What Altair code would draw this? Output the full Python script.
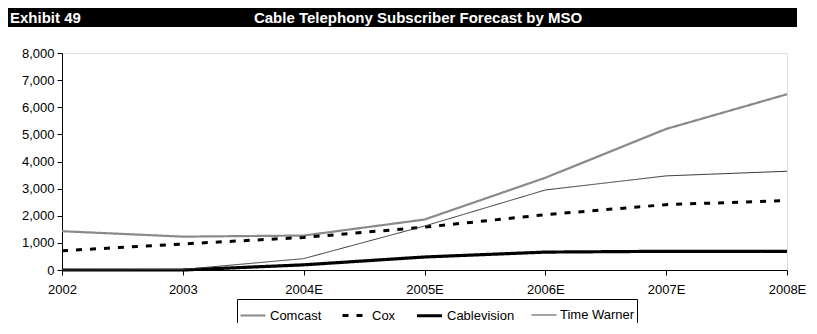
import altair as alt
import pandas as pd

years = ["2002", "2003", "2004E", "2005E", "2006E", "2007E", "2008E"]
comcast = [1430, 1230, 1270, 1860, 3400, 5200, 6480]
cox = [710, 960, 1200, 1580, 2040, 2410, 2560]
cablevision = [0, 0, 190, 480, 660, 690, 690]
time_warner = [0, 20, 420, 1620, 2950, 3470, 3640]

series_names = ["Comcast", "Cox", "Cablevision", "Time Warner"]
series_values = [comcast, cox, cablevision, time_warner]

rows = []
for name, vals in zip(series_names, series_values):
    for y, v in zip(years, vals):
        rows.append({"Year": y, "MSO": name, "Subscribers": v})
df = pd.DataFrame(rows)

REG = "Liberation Sans, Arial, sans-serif"


def legend():
    return alt.Legend(title=None, orient="none", legendX=175, legendY=246,
                      direction="horizontal", symbolType="stroke",
                      symbolSize=625, labelFont=REG, labelFontSize=13,
                      labelColor="#000", columnPadding=14, labelOffset=3,
                      strokeColor="#000", padding=2, fillColor="#fff")


lines = alt.Chart(df).mark_line(clip=False).encode(
    x=alt.X("Year:N", sort=years,
            scale=alt.Scale(type="point", padding=0),
            axis=alt.Axis(title=None, labelAngle=0, tickSize=5, labelPadding=8,
                          labelFont=REG, labelFontSize=13, labelColor="#000",
                          domainColor="#000", tickColor="#000", grid=False)),
    y=alt.Y("Subscribers:Q",
            scale=alt.Scale(domain=[0, 8000], nice=False),
            axis=alt.Axis(title=None, values=list(range(0, 8001, 1000)), format=",d",
                          tickSize=5, labelPadding=3, labelFont=REG, labelFontSize=13,
                          labelColor="#000", domainColor="#000", tickColor="#000",
                          grid=False)),
    color=alt.Color("MSO:N", sort=series_names,
                    scale=alt.Scale(domain=series_names,
                                    range=["#8a8a8a", "#000000", "#000000", "#333333"]),
                    legend=legend()),
    strokeDash=alt.StrokeDash("MSO:N", sort=series_names,
                              scale=alt.Scale(domain=series_names,
                                              range=[[1, 0], [6, 8], [1, 0], [1, 0]]),
                              legend=legend()),
    strokeWidth=alt.StrokeWidth("MSO:N", sort=series_names,
                                scale=alt.Scale(type="ordinal", domain=series_names,
                                                range=[2.2, 3, 3.2, 1]),
                                legend=legend()),
)

header_df = pd.DataFrame({"a": [0]})
bar = alt.Chart(header_df).mark_rect(color="#000", clip=False).encode(
    x=alt.value(-54), x2=alt.value(735), y=alt.value(-45), y2=alt.value(-26)
)
exhibit = alt.Chart(header_df).mark_text(
    align="left", baseline="alphabetic", font=REG, fontSize=15,
    fontWeight="bold", color="#fff"
).encode(x=alt.value(-52), y=alt.value(-30), text=alt.value("Exhibit 49"))
title = alt.Chart(header_df).mark_text(
    align="center", baseline="alphabetic", font=REG, fontSize=15,
    fontWeight="bold", color="#fff"
).encode(x=alt.value(356), y=alt.value(-30),
         text=alt.value("Cable Telephony Subscriber Forecast by MSO"))

chart = alt.layer(bar, exhibit, title, lines).properties(
    width=725, height=217,
    padding={"left": 0, "top": 0, "right": 0, "bottom": -3}
).configure_view(stroke=None).configure(background="#ffffff")

chart.save("out.html", embed_options={"renderer": "svg", "actions": False})
